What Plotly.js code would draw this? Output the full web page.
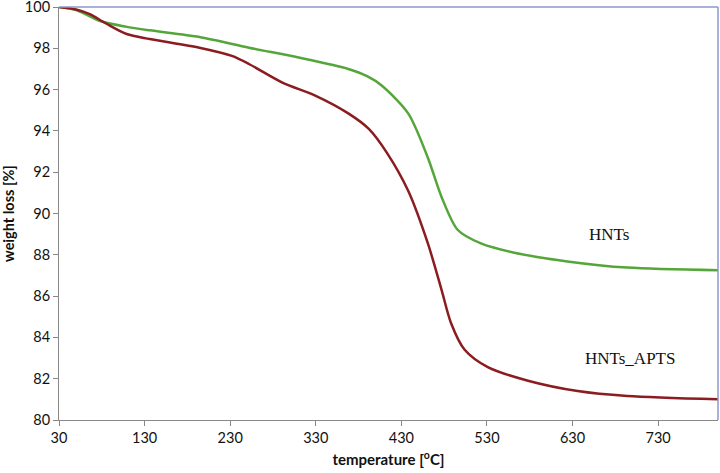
<!DOCTYPE html>
<html>
<head>
<meta charset="utf-8">
<script src="https://cdn.plot.ly/plotly-3.0.1.min.js"></script>
<style>
  html, body { margin: 0; padding: 0; background: #fff; }
  #myPlot { width: 720px; height: 473px; }
</style>
</head>
<body>
<div id="myPlot"></div>
<script>
// values
const hntsTemp = [30, 50, 78, 108, 136, 194, 252, 310, 368, 390, 407, 438, 461, 477, 496, 523, 562, 624, 694, 800];
const hntsWeight = [100, 99.85, 99.32, 99.05, 98.87, 98.55, 98.03, 97.55, 97.0, 96.65, 96.2, 94.85, 92.7, 90.8, 89.2, 88.55, 88.1, 87.68, 87.38, 87.25];

const aptsTemp = [30, 50, 66, 85, 109, 136, 194, 232, 252, 291, 330, 368, 392, 413, 438, 461, 477, 488, 504, 531, 578, 636, 694, 800];
const aptsWeight = [100, 99.88, 99.65, 99.2, 98.69, 98.45, 98.03, 97.63, 97.24, 96.34, 95.7, 94.85, 94.1, 92.95, 91.1, 88.55, 86.3, 84.7, 83.4, 82.56, 81.9, 81.4, 81.16, 81.0];

const xTicks = [30, 130, 230, 330, 430, 530, 630, 730];
const yTicks = [80, 82, 84, 86, 88, 90, 92, 94, 96, 98, 100];

const labels = ["HNTs", "HNTs_APTS"];
const labelX = [673, 697];
const labelY = [89.0, 83.0];

const tickFont = {family: "Lato, 'Open Sans', sans-serif", size: 14.5, color: "#111"};

const data = [{
  x: hntsTemp,
  y: hntsWeight,
  mode: "lines",
  line: {color: "#55a63a", width: 2.5, shape: "spline", smoothing: 0.8},
  name: "HNTs"
}, {
  x: aptsTemp,
  y: aptsWeight,
  mode: "lines",
  line: {color: "#8b1c1f", width: 2.5, shape: "spline", smoothing: 0.8},
  name: "HNTs_APTS"
}];

const layout = {
  width: 720,
  height: 473,
  margin: {l: 59, r: 2, t: 7, b: 53},
  paper_bgcolor: "#fff",
  plot_bgcolor: "#fff",
  showlegend: false,
  xaxis: {
    range: [30, 800],
    tickvals: xTicks,
    ticktext: xTicks.map(String),
    ticks: "outside",
    ticklen: 5,
    tickcolor: "#888",
    showgrid: false,
    zeroline: false,
    showline: true,
    linecolor: "#888",
    linewidth: 1,
    tickfont: tickFont,
    ticklabeloverflow: "allow",
    title: {
      text: "<b>temperature [<sup>o</sup>C]</b>",
      font: {family: "Lato, 'Open Sans', sans-serif", size: 15, color: "#111"},
      standoff: 9
    }
  },
  yaxis: {
    range: [80, 100],
    tickvals: yTicks,
    ticktext: yTicks.map(String),
    ticks: "outside",
    ticklen: 5,
    tickcolor: "#888",
    showgrid: false,
    zeroline: false,
    showline: true,
    linecolor: "#888",
    linewidth: 1,
    tickfont: tickFont,
    ticklabeloverflow: "allow",
    title: {
      text: "<b>weight loss [%]</b>",
      font: {family: "Lato, 'Open Sans', sans-serif", size: 14.5, color: "#111"},
      standoff: 10
    }
  },
  shapes: [
    {type: "line", xref: "paper", yref: "paper", x0: 0, x1: 1, y0: 1, y1: 1, line: {color: "#8c98cc", width: 1.5}},
    {type: "line", xref: "paper", yref: "paper", x0: 1, x1: 1, y0: 0, y1: 1, line: {color: "#8c98cc", width: 1.5}}
  ],
  annotations: labels.map((t, i) => ({
    x: labelX[i],
    y: labelY[i],
    text: t,
    showarrow: false,
    font: {family: "'Liberation Serif', 'Times New Roman', serif", size: 17, color: "#111"}
  }))
};

Plotly.newPlot("myPlot", data, layout, {displaylogo: false, displayModeBar: false, staticPlot: true});
</script>
</body>
</html>
